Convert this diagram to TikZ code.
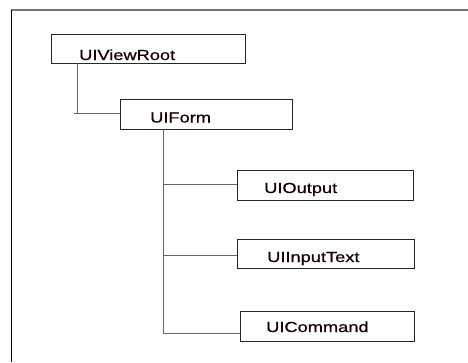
\documentclass[tikz,border=0pt]{standalone}
\usepackage{fontspec}
\usepackage{graphicx}
\setmainfont{Liberation Sans}
\newfontfamily\boxfont[FakeBold=0.6]{Liberation Sans}
\begin{document}
\begin{tikzpicture}[x=1pt,y=-1pt,
  box/.style={draw=black!85, line width=0.9pt, fill=white, inner sep=0pt},
  lbl/.style={anchor=base west, inner sep=0pt, text=black!90!red, font=\boxfont\fontsize{14.6}{16}\selectfont},
  conn/.style={draw=black!60, line width=0.9pt}]
\useasboundingbox (0,0) rectangle (468,362);
% frame
\draw[black!55, line width=1.6pt] (11,10) -- (468,10);
\draw[black, line width=0.9pt] (11,10) -- (11,362);
% boxes
\node[box, minimum width=194pt, minimum height=29pt] (root) at (148,48.5) {};
\node[box, minimum width=172pt, minimum height=30pt] (form) at (206,114) {};
\node[box, minimum width=176pt, minimum height=30pt] (out) at (325,185) {};
\node[box, minimum width=177pt, minimum height=29pt] (inp) at (325.5,253.5) {};
\node[box, minimum width=174pt, minimum height=30pt] (cmd) at (327,326) {};
% labels
\node[lbl] (lroot) at (79,60) {\scalebox{1.25}[1]{UIViewRoot}};
\node[lbl] (lform) at (150,122.5) {\scalebox{1.25}[1]{UIForm}};
\node[lbl] (lout) at (264,193) {\scalebox{1.25}[1]{UIOutput}};
\node[lbl] (linp) at (267,262) {\scalebox{1.25}[1]{UIInputText}};
\node[lbl] (lcmd) at (266,332) {\scalebox{1.25}[1]{UICommand}};
% connectors
\coordinate (c1) at (77,113);
\coordinate (c0) at (74,113);
\coordinate (f1) at (163,184);
\coordinate (f2) at (163,255);
\coordinate (f3) at (163,333);
\draw[conn] (root.south -| c1) -- (c1);
\draw[conn] (c0) -- (form.west |- c1);
\draw[conn] (form.south -| f1) -- (f3);
\draw[conn] (f1) -- (out.west |- f1);
\draw[conn] (f2) -- (inp.west |- f2);
\draw[conn] (f3) -- (cmd.west |- f3);
\end{tikzpicture}
\end{document}
